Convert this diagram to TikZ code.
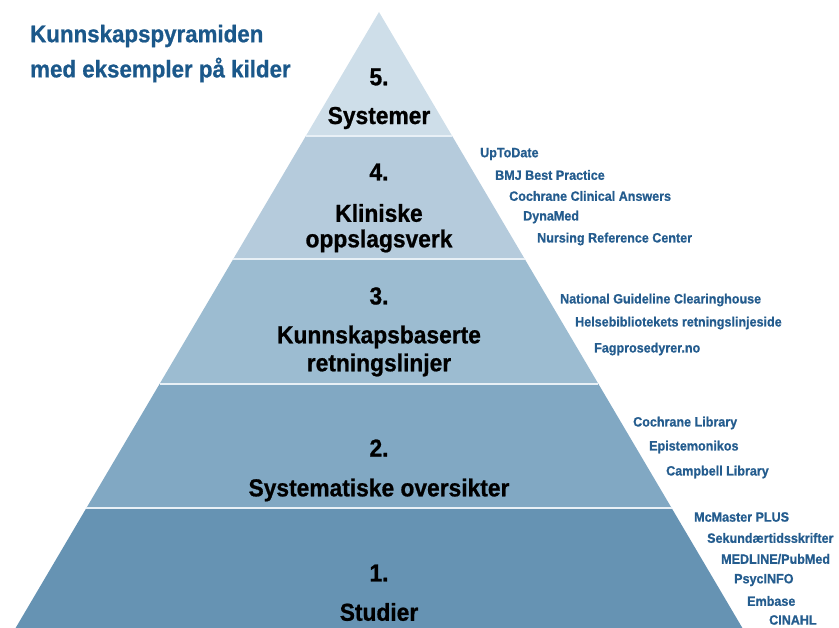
\documentclass[tikz,border=0pt]{standalone}
\usepackage{fontspec}
\setmainfont{Liberation Sans}[FakeStretch=0.93,BoldFeatures={FakeBold=0.8}]
\usetikzlibrary{calc}
\definecolor{titleblue}{RGB}{27,88,138}
\definecolor{srcblue}{RGB}{36,92,142}
\definecolor{lvfive}{RGB}{206,222,233}
\definecolor{lvfour}{RGB}{181,203,220}
\definecolor{lvthree}{RGB}{156,188,209}
\definecolor{lvtwo}{RGB}{129,168,195}
\definecolor{lvone}{RGB}{102,147,179}
\definecolor{sep}{RGB}{232,240,246}
\tikzset{lvl/.style={inner sep=0pt,align=center,font=\bfseries\fontsize{24.5}{28}\selectfont},
src/.style={anchor=west,inner sep=0pt,text=srcblue,font=\bfseries\fontsize{13.5}{15}\selectfont},
ttl/.style={anchor=west,inner sep=0pt,text=titleblue,font=\bfseries\fontsize{24}{29}\selectfont}}

\begin{document}
\begin{tikzpicture}[x=1pt,y=-1pt]
\useasboundingbox (0,0) rectangle (839,628);
\coordinate (A) at (379,12);
\coordinate (L) at (15.6,628);
\coordinate (R) at (742.4,628);
% bands, top to bottom
\fill[lvfive] (A) -- ($(A)!.2013!(R)$) -- ($(A)!.2013!(L)$) -- cycle;
\fill[lvfour] ($(A)!.2013!(L)$) -- ($(A)!.2013!(R)$) -- ($(A)!.401!(R)$) -- ($(A)!.401!(L)$) -- cycle;
\fill[lvthree] ($(A)!.401!(L)$) -- ($(A)!.401!(R)$) -- ($(A)!.6039!(R)$) -- ($(A)!.6039!(L)$) -- cycle;
\fill[lvtwo] ($(A)!.6039!(L)$) -- ($(A)!.6039!(R)$) -- ($(A)!.8052!(R)$) -- ($(A)!.8052!(L)$) -- cycle;
\fill[lvone] ($(A)!.8052!(L)$) -- ($(A)!.8052!(R)$) -- (R) -- (L) -- cycle;
\foreach \t in {.2013,.401,.6039,.8052}
  \draw[sep,line width=2pt] ($(A)!\t!(L)$) -- ($(A)!\t!(R)$);

\node[ttl] (title1) at (30,36) {Kunnskapspyramiden};
\node[ttl] (title2) at (30,70) {med eksempler på kilder};

\node[lvl] (n5) at (379,77) {5.};
\node[lvl] (t5) at (379,118) {Systemer};
\node[lvl] (n4) at (379,172) {4.};
\node[lvl] (t4) at (379,213) {Kliniske};
\node[lvl] (t4b) at (379,241) {oppslagsverk};
\node[lvl] (n3) at (379,296) {3.};
\node[lvl] (t3) at (379,337) {Kunnskapsbaserte};
\node[lvl] (t3b) at (379,365) {retningslinjer};
\node[lvl] (n2) at (379,448) {2.};
\node[lvl] (t2) at (379,490) {Systematiske oversikter};
\node[lvl] (n1) at (379,573) {1.};
\node[lvl] (t1) at (379,612) {Studier};

\node[src] (s41) at (480,154) {UpToDate};
\node[src] (s42) at (495,175) {BMJ Best Practice};
\node[src] (s43) at (509,196) {Cochrane Clinical Answers};
\node[src] (s44) at (523,217) {DynaMed};
\node[src] (s45) at (537,239) {Nursing Reference Center};

\node[src] (s31) at (560,300) {National Guideline Clearinghouse};
\node[src] (s32) at (575,323) {Helsebibliotekets retningslinjeside};
\node[src] (s33) at (594,349) {Fagprosedyrer.no};

\node[src] (s21) at (633,423) {Cochrane Library};
\node[src] (s22) at (649,447) {Epistemonikos};
\node[src] (s23) at (666,472) {Campbell Library};

\node[src] (s11) at (694,517) {McMaster PLUS};
\node[src] (s12) at (707,538) {Sekundærtidsskrifter};
\node[src] (s13) at (721,559) {MEDLINE/PubMed};
\node[src] (s14) at (734,580) {PsycINFO};
\node[src] (s15) at (747,601) {Embase};
\node[src] (s16) at (769,620) {CINAHL};
\end{tikzpicture}
\end{document}
